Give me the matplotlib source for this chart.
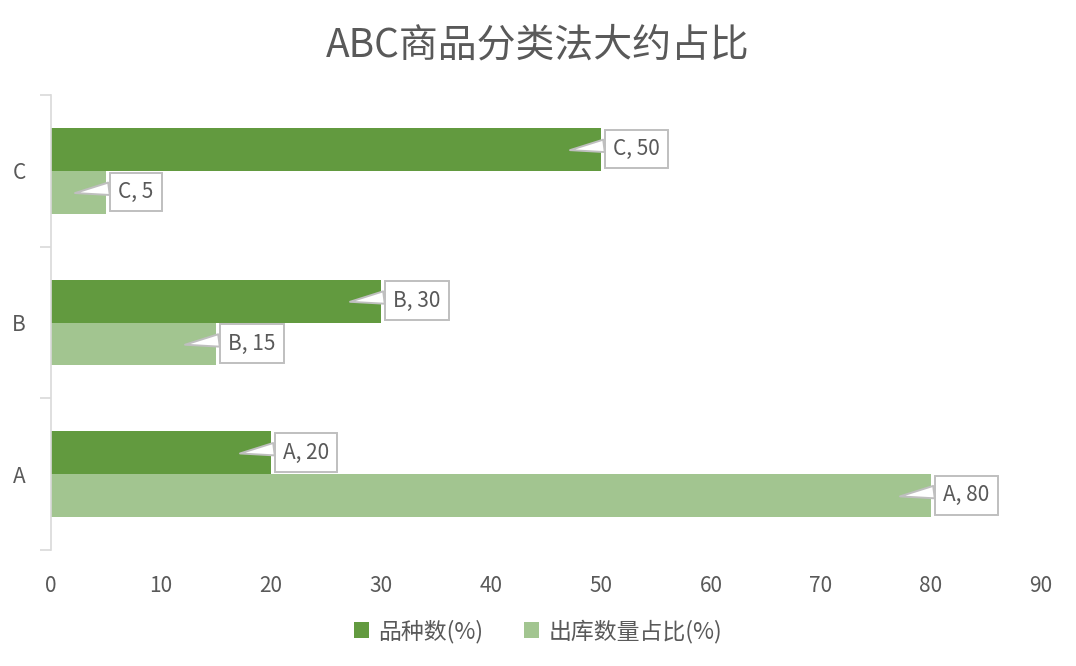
import matplotlib
matplotlib.use("Agg")
import matplotlib.pyplot as plt
import numpy as np

plt.rcParams['font.family'] = ['Noto Sans CJK SC', 'DejaVu Sans']

categories = ['A', 'B', 'C']
series1_name = '品种数(%)'
series2_name = '出库数量占比(%)'
series1 = [20, 30, 50]
series2 = [80, 15, 5]
xticks = [0, 10, 20, 30, 40, 50, 60, 70, 80, 90]
title = 'ABC商品分类法大约占比'

c_dark = '#629A3F'
c_light = '#A2C590'
gray = '#595959'
axis_gray = '#D9D9D9'
fs = 15

fig = plt.figure(figsize=(10.76, 6.66), dpi=100)
ax = fig.add_axes([51/1076, 1-550/666, 990/1076, 455/666])

y = np.arange(len(categories))
h = 0.283
ax.barh(y + h/2, series1, height=h, color=c_dark, label=series1_name, zorder=2)
ax.barh(y - h/2, series2, height=h, color=c_light, label=series2_name, zorder=2)

ax.set_xlim(0, 90)
ax.set_ylim(-0.5, 2.5)
ax.set_xticks(xticks)
ax.set_xticklabels([str(t) for t in xticks], fontsize=fs, color=gray)
ax.tick_params(axis='x', length=0, pad=18)

ax.set_yticks([-0.5, 0.5, 1.5, 2.5])
ax.set_yticklabels([])
ax.set_yticks(y, minor=True)
ax.set_yticklabels(categories, minor=True, fontsize=fs, color=gray)
ax.tick_params(axis='y', which='major', length=8, color=axis_gray, width=1.2)
ax.tick_params(axis='y', which='minor', length=0, pad=18)

for s in ['top', 'right', 'bottom']:
    ax.spines[s].set_visible(False)
ax.spines['left'].set_color(axis_gray)
ax.spines['left'].set_linewidth(1.2)

def callout(val, yy, cat):
    ax.annotate(f'{cat}, {val}',
                xy=(val - 31/11, yy - 0.005), xycoords='data',
                xytext=(31 + 4 + 8, 1), textcoords='offset pixels',
                ha='left', va='center', fontsize=fs, color=gray,
                bbox=dict(boxstyle='square,pad=0.4', fc='white', ec='#BFBFBF', lw=1.4),
                arrowprops=dict(arrowstyle='wedge,tail_width=0.6', fc='white', ec='#BFBFBF',
                                lw=1.4, relpos=(0, 0.7), shrinkA=0, shrinkB=0),
                zorder=5)

for i, cat in enumerate(categories):
    callout(series1[i], y[i] + h/2, cat)
    callout(series2[i], y[i] - h/2, cat)

fig.text(0.5, 1-45/666, title, ha='center', va='center', fontsize=28, color=gray)

fig.legend(loc='center', bbox_to_anchor=(0.5, 1-631/666), ncol=2, frameon=False,
           fontsize=16.5, labelcolor=gray, handlelength=0.65, handleheight=0.65,
           handletextpad=0.4, columnspacing=1.8)

fig.savefig('out.png', dpi=100)
